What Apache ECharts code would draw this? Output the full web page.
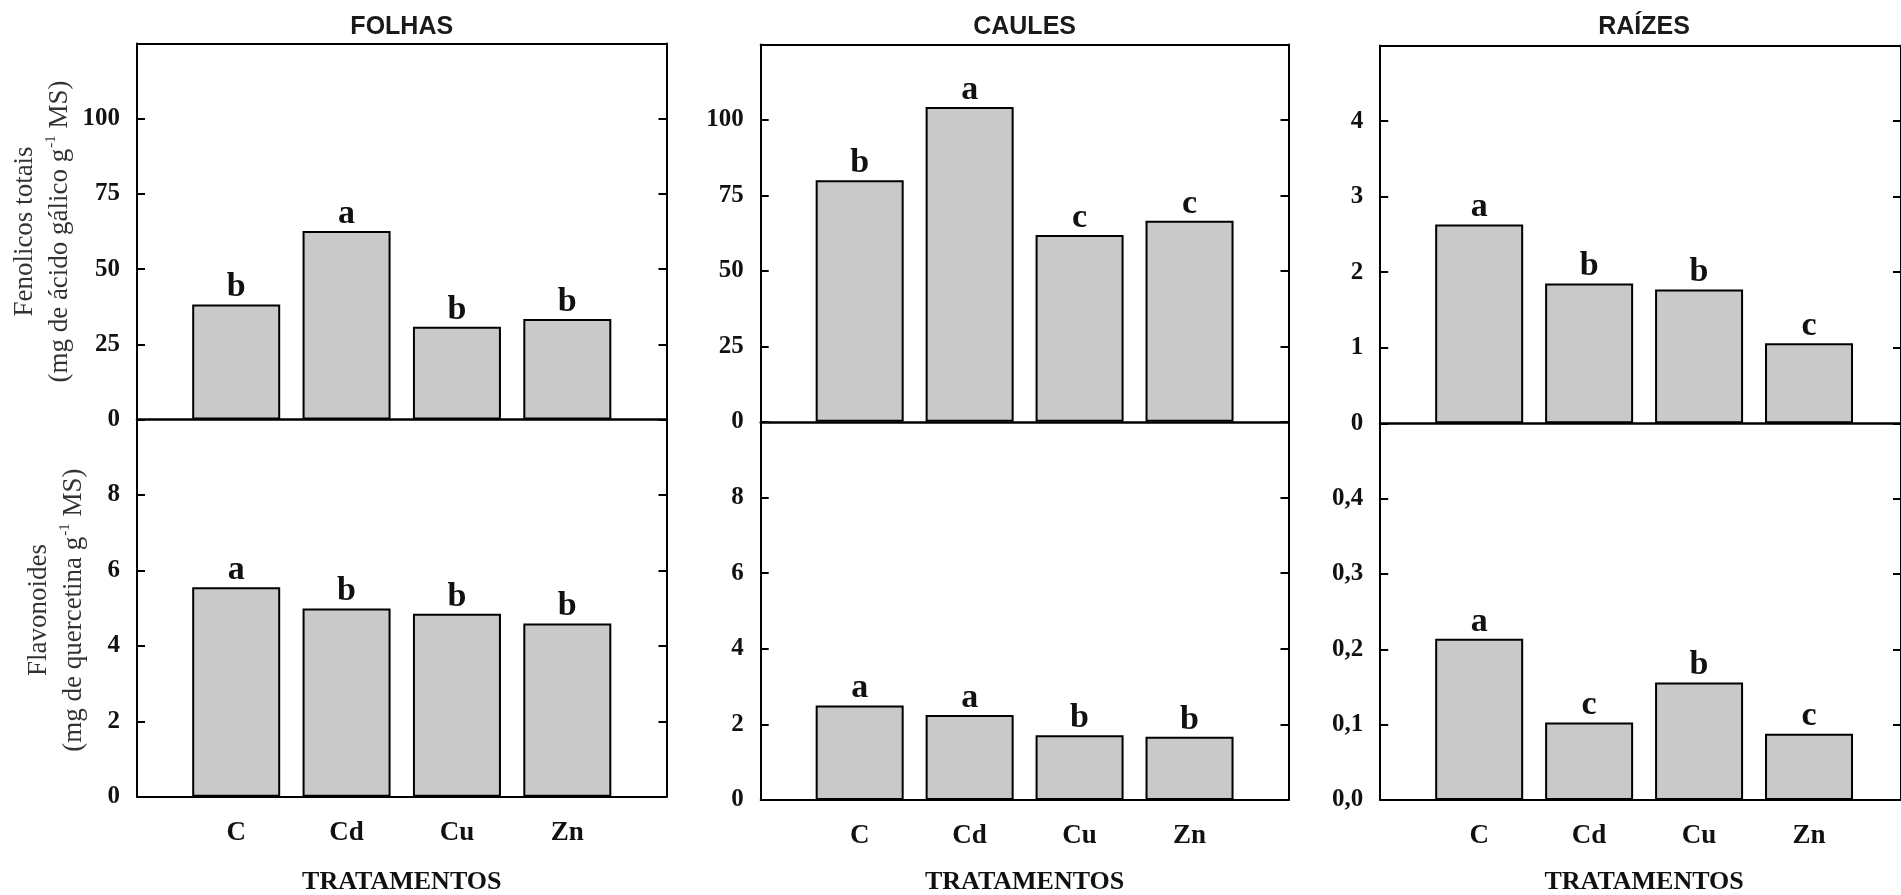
<!DOCTYPE html>
<html><head><meta charset="utf-8">
<script src="https://cdn.jsdelivr.net/npm/echarts@6/dist/echarts.min.js"></script>
<style>html,body{margin:0;padding:0;background:#fff}#c{width:1901px;height:895px}</style>
</head><body><div id="c"></div>
<script>
// ---------- data ----------
const categories = ['C', 'Cd', 'Cu', 'Zn'];
const columnTitles = ['FOLHAS', 'CAULES', 'RAÍZES'];
const xAxisTitle = 'TRATAMENTOS';
const yTitleFenolicos = ['Fenolicos totais', '(mg de ácido gálico g{s|-1} MS)'];
const yTitleFlavonoides = ['Flavonoides', '(mg de quercetina g{s|-1} MS)'];

const fenolicosFolhas = [38.2, 62.7, 30.8, 33.4];
const fenolicosCaules = [80.0, 104.3, 61.9, 66.6];
const fenolicosRaizes = [2.63, 1.85, 1.77, 1.06];
const flavonoidesFolhas = [5.55, 4.99, 4.85, 4.59];
const flavonoidesCaules = [2.50, 2.25, 1.71, 1.67];
const flavonoidesRaizes = [0.214, 0.103, 0.156, 0.088];

const letrasFenolicosFolhas = ['b', 'a', 'b', 'b'];
const letrasFenolicosCaules = ['b', 'a', 'c', 'c'];
const letrasFenolicosRaizes = ['a', 'b', 'b', 'c'];
const letrasFlavonoidesFolhas = ['a', 'b', 'b', 'b'];
const letrasFlavonoidesCaules = ['a', 'a', 'b', 'b'];
const letrasFlavonoidesRaizes = ['a', 'c', 'b', 'c'];

const ticksFenolicos = [0, 25, 50, 75, 100];
const ticksFenolicosRaizes = [0, 1, 2, 3, 4];
const ticksFlavonoides = [0, 2, 4, 6, 8];
const ticksFlavonoidesRaizes = [0, 0.1, 0.2, 0.3, 0.4];

// ---------- layout ----------
const SERIF = 'Liberation Serif';
const SANS = 'Liberation Sans';
const cols = [
  { left: 137, right: 666.5, top: 43.5, mid: 419.5, bottom: 796.7 },
  { left: 760.7, right: 1288.5, top: 44.5, mid: 421.8, bottom: 800 },
  { left: 1380.2, right: 1908, top: 45.5, mid: 423.3, bottom: 800 }
];
const panels = [
  [
    { data: fenolicosFolhas, letters: letrasFenolicosFolhas, max: 125, interval: 25, ticks: ticksFenolicos, dec: 0 },
    { data: flavonoidesFolhas, letters: letrasFlavonoidesFolhas, max: 10, interval: 2, ticks: ticksFlavonoides, dec: 0 }
  ],
  [
    { data: fenolicosCaules, letters: letrasFenolicosCaules, max: 125, interval: 25, ticks: ticksFenolicos, dec: 0 },
    { data: flavonoidesCaules, letters: letrasFlavonoidesCaules, max: 10, interval: 2, ticks: ticksFlavonoides, dec: 0 }
  ],
  [
    { data: fenolicosRaizes, letters: letrasFenolicosRaizes, max: 5, interval: 1, ticks: ticksFenolicosRaizes, dec: 0 },
    { data: flavonoidesRaizes, letters: letrasFlavonoidesRaizes, max: 0.5, interval: 0.1, ticks: ticksFlavonoidesRaizes, dec: 1 }
  ]
];
const INSET = 44;
const LINE = { color: '#000', width: 2 };

const grid = [], xAxis = [], yAxis = [], series = [], graphic = [];

cols.forEach((col, c) => {
  const w = col.right - col.left;
  [0, 1].forEach(r => {
    const p = panels[c][r];
    const top = r === 0 ? col.top : col.mid;
    const h = r === 0 ? col.mid - col.top : col.bottom - col.mid;
    // frame grid
    const gf = grid.length;
    grid.push({ left: col.left, top: top, width: w, height: h, containLabel: false });
    xAxis.push({ type: 'value', gridIndex: gf, min: 0, max: 1, position: 'bottom',
      axisLine: { show: true, onZero: false, lineStyle: { color: '#000', width: r === 0 ? 2.5 : 2 } },
      axisTick: { show: false }, axisLabel: { show: false }, splitLine: { show: false } });
    if (r === 0) {
      xAxis.push({ type: 'value', gridIndex: gf, min: 0, max: 1, position: 'top',
        axisLine: { show: true, onZero: false, lineStyle: LINE },
        axisTick: { show: false }, axisLabel: { show: false }, splitLine: { show: false } });
    }
    const fmt = v => (p.dec ? v.toFixed(p.dec) : String(v)).replace('.', ',');
    yAxis.push({ type: 'value', gridIndex: gf, min: 0, max: p.max, interval: p.interval, position: 'left',
      axisLine: { show: true, onZero: false, lineStyle: LINE },
      axisTick: { show: true, inside: true, length: 8, customValues: p.ticks, lineStyle: LINE },
      axisLabel: { show: true, customValues: p.ticks, formatter: fmt, margin: 17,
        fontFamily: SERIF, fontWeight: 'bold', fontSize: 25, color: '#111' },
      splitLine: { show: false } });
    yAxis.push({ type: 'value', gridIndex: gf, min: 0, max: p.max, interval: p.interval, position: 'right',
      axisLine: { show: true, onZero: false, lineStyle: LINE },
      axisTick: { show: true, inside: true, length: 8, customValues: p.ticks, lineStyle: LINE },
      axisLabel: { show: false }, splitLine: { show: false } });
    // bar grid
    const gb = grid.length;
    grid.push({ left: col.left + INSET, top: top, width: w - 2 * INSET, height: h, containLabel: false });
    const xi = xAxis.length;
    xAxis.push({ type: 'category', gridIndex: gb, data: categories,
      axisLine: { show: false }, axisTick: { show: false },
      axisLabel: { show: r === 1, margin: 23, fontFamily: SERIF, fontWeight: 'bold', fontSize: 27, color: '#111' },
      splitLine: { show: false } });
    const yi = yAxis.length;
    yAxis.push({ type: 'value', gridIndex: gb, min: 0, max: p.max, interval: p.interval, show: false, splitLine: { show: false } });
    series.push({ type: 'bar', xAxisIndex: xi, yAxisIndex: yi, data: p.data, barWidth: 88, silent: true,
      itemStyle: { color: '#c9c9c9', borderColor: '#000', borderWidth: 2 },
      label: { show: true, position: 'top', distance: 0, formatter: q => p.letters[q.dataIndex],
        fontFamily: SERIF, fontWeight: 'bold', fontSize: 34, color: '#111' } });
  });
  const cx = (col.left + Math.min(col.right, 1908)) / 2;
  graphic.push({ type: 'text', x: cx, y: 27, silent: true,
    style: { text: columnTitles[c], font: 'bold 25px "' + SANS + '"', fill: '#1a1a1a',
      align: 'center', verticalAlign: 'middle', textAlign: 'center', textVerticalAlign: 'middle' } });
  graphic.push({ type: 'text', x: cx, y: 882, silent: true,
    style: { text: xAxisTitle, font: 'bold 26px "' + SERIF + '"', fill: '#111',
      align: 'center', verticalAlign: 'middle', textAlign: 'center', textVerticalAlign: 'middle' } });
});

function yTitle(lines, x, y) {
  return { type: 'text', x: x, y: y, rotation: Math.PI / 2, silent: true,
    style: { text: lines.join('\n'), fontFamily: SERIF, fontSize: 27, fill: '#333', lineHeight: 35,
      align: 'center', verticalAlign: 'middle', textAlign: 'center', textVerticalAlign: 'middle',
      rich: { s: { fontFamily: SERIF, fontSize: 15, fill: '#333', color: '#333', lineHeight: 35, verticalAlign: 'top', padding: [2, 0, 0, 1] } } } };
}
graphic.push(yTitle(yTitleFenolicos, 42, (cols[0].top + cols[0].mid) / 2));
graphic.push(yTitle(yTitleFlavonoides, 56, (cols[0].mid + cols[0].bottom) / 2 + 2));

const chart = echarts.init(document.getElementById('c'), null, { renderer: 'canvas' });
chart.setOption({ animation: false, backgroundColor: '#fff', grid, xAxis, yAxis, series, graphic });
</script></body></html>
